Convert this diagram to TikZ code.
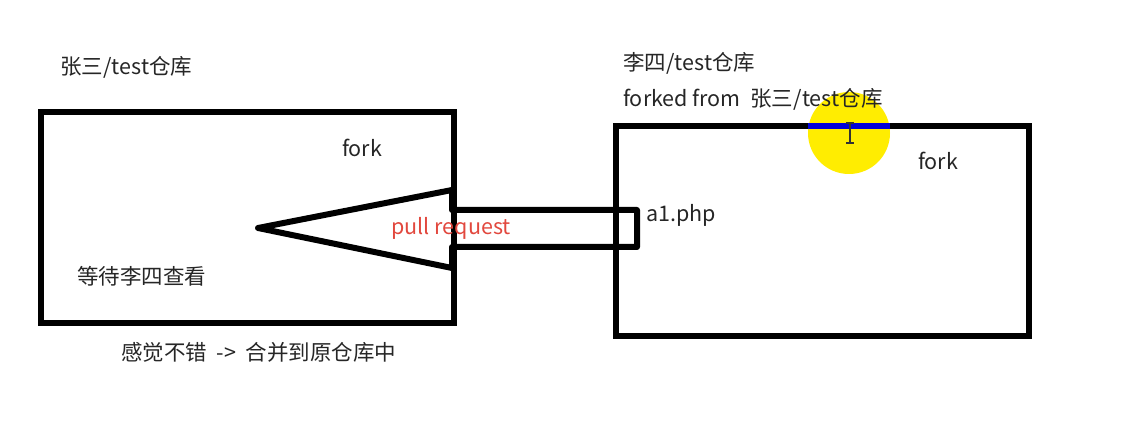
\documentclass[tikz,border=0pt]{standalone}
\usepackage{fontspec}
\setmainfont{Noto Sans CJK SC}
\begin{document}
\begin{tikzpicture}[x=1pt,y=-1pt,
  repo/.style={draw=black,line width=6pt,minimum width=#1,inner sep=0pt,outer sep=0pt},
  lbl/.style={anchor=west,inner sep=0pt,font=\fontsize{21.5}{24}\selectfont,text=black!85},
  clbl/.style={inner sep=0pt,font=\fontsize{21.5}{24}\selectfont,text=black!85}]
\useasboundingbox[fill=white] (0,0) rectangle (1138,422);
% highlight
\fill[yellow!95!orange] (849,133) coordinate (hc) circle (41);
% repositories
\node[repo=413pt,minimum height=211pt] (left) at (247.5,217.5) {};
\node[repo=413pt,minimum height=210pt] (right) at (822.5,231) {};
\draw[line width=6pt,blue!85!black] (808,126) coordinate (hl1) -- (890,126) coordinate (hl2);
% cursor
\draw[line width=1.2pt,black!80] (846,123) -- (854,123) (850,123) -- (850,143) (846,143) -- (854,143);
% pull request arrow
\coordinate (tip) at (258,228);
\draw[line width=6pt,line join=round]
  (452,210) -- (637,210) -- (637,247) -- (452,247) -- (452,268) -- (tip) -- (452,190) -- cycle;
% texts
\node[lbl] (t1) at (60,67) {张三/test仓库};
\node[lbl] (t2) at (623,63) {李四/test仓库};
\node[lbl] (t3) at (623,99) {forked from\ \ 张三/test仓库};
\node[clbl] (f1) at (362,148) {fork};
\node[clbl] (f2) at (938,161) {fork};
\node[lbl] (a1) at (646,215) {a1.php};
\node[clbl,text={rgb,255:red,226;green,72;blue,62}] (pr) at (451,228) {pull request};
\node[lbl] (w) at (77,276) {等待李四查看};
\node[lbl] (m) at (121,352) {感觉不错\ \ ->\ \ 合并到原仓库中};
\end{tikzpicture}
\end{document}
